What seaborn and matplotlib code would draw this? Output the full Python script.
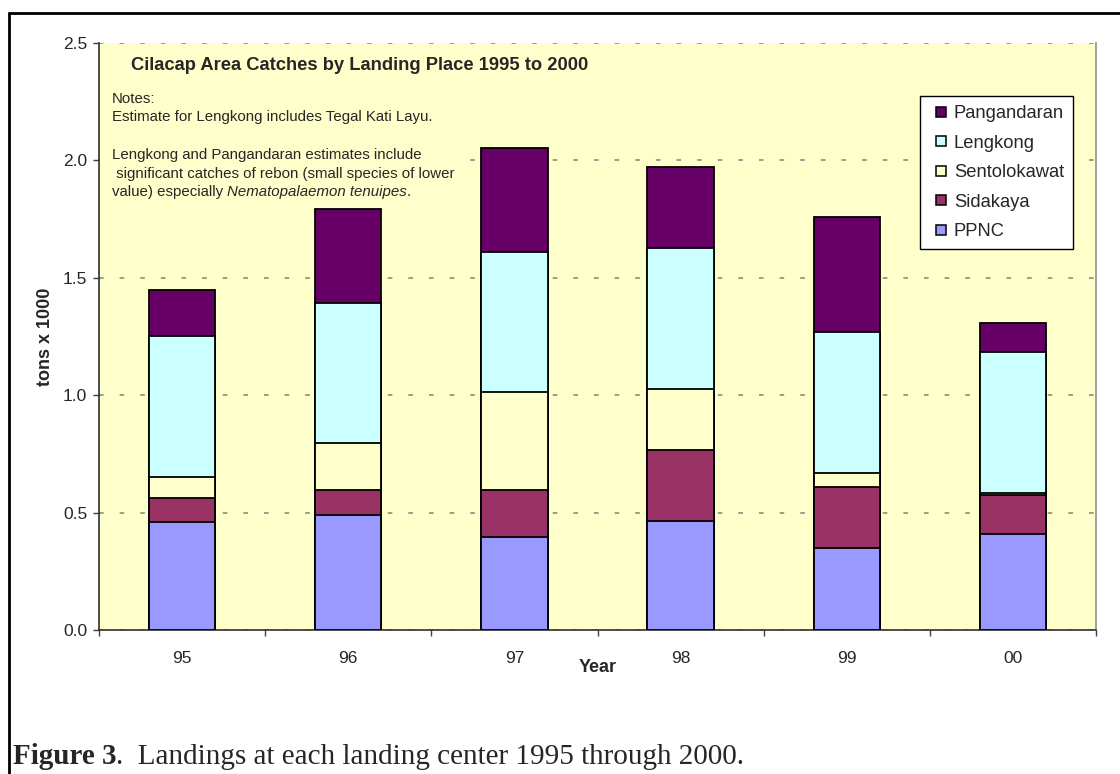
import matplotlib.pyplot as plt
import numpy as np
import pandas as pd
import seaborn as sns
from matplotlib.lines import Line2D
from matplotlib.patches import Rectangle

# Data (tons x 1000)
years = ['95', '96', '97', '98', '99', '00']
places = ['PPNC', 'Sidakaya', 'Sentolokawat', 'Lengkong', 'Pangandaran']
ppnc = [0.462, 0.488, 0.397, 0.463, 0.348, 0.407]
sidakaya = [0.100, 0.107, 0.200, 0.305, 0.260, 0.170]
sentolokawat = [0.090, 0.200, 0.415, 0.260, 0.060, 0.007]
lengkong = [0.600, 0.598, 0.600, 0.600, 0.600, 0.600]
pangandaran = [0.195, 0.402, 0.440, 0.345, 0.490, 0.125]
colors = ['#9999FF', '#993366', '#FFFFCC', '#CCFFFF', '#660066']

df = pd.DataFrame({'year': years, 'PPNC': ppnc, 'Sidakaya': sidakaya,
                   'Sentolokawat': sentolokawat, 'Lengkong': lengkong,
                   'Pangandaran': pangandaran})
cum = df[places].cumsum(axis=1)

sns.set_style('white')
plt.rcParams['font.family'] = ['Liberation Sans', 'DejaVu Sans']

fig = plt.figure(figsize=(11.2, 7.74), dpi=100)
ax = fig.add_axes([99 / 1120, 1 - 630 / 774, 997 / 1120, 587 / 774])
ax.set_facecolor('#FFFFCC')

# stacked bars: draw cumulative totals from the top segment down
for place, col in reversed(list(zip(places, colors))):
    sns.barplot(x=df['year'], y=cum[place], color=col, width=0.4,
                edgecolor='black', linewidth=1.3, saturation=1, ax=ax,
                zorder=3)

ax.set_xlim(-0.5, 5.5)
ax.set_ylim(0, 2.5)
yt = np.arange(0, 2.51, 0.5)
ax.set_yticks(yt)
ax.set_yticklabels([f'{v:.1f}' for v in yt], fontsize=12.5)
ax.yaxis.grid(True, color='#808080', linestyle=(0, (3, 10.5)), linewidth=1.1,
              zorder=0)
ax.set_axisbelow(True)

# category boundaries carry the tick marks, labels sit at the centres
ax.set_xticks(np.arange(-0.5, 5.6, 1))
ax.set_xticklabels([])
ax.set_xticks(range(len(years)), minor=True)
ax.set_xticklabels(years, minor=True, fontsize=12.5)
ax.tick_params(axis='x', which='major', direction='out', length=4.5,
               width=1, color='#404040', bottom=True)
ax.tick_params(axis='x', which='minor', length=0, pad=15, bottom=True)
ax.tick_params(axis='y', direction='out', length=4.5, width=1,
               color='#404040', left=True, pad=4)

for side in ['left', 'bottom']:
    ax.spines[side].set_color('#303030')
    ax.spines[side].set_linewidth(1.2)
ax.spines['right'].set_color('#909090')
ax.spines['right'].set_linewidth(1.2)
ax.spines['top'].set_visible(False)

ax.set_ylabel('tons x 1000', fontsize=13, fontweight='bold', labelpad=6)
ax.set_xlabel('Year', fontsize=13, fontweight='bold', va='center')
ax.xaxis.set_label_coords(0.5, -38 / 587)

# title and notes (the notes box hides the gridlines behind it)
ax.add_patch(Rectangle((100 / 1120, 1 - 203 / 774), 370 / 1120, 116 / 774,
                       transform=fig.transFigure, facecolor='#FFFFCC',
                       edgecolor='none', zorder=2))
ax.text(131 / 1120, 1 - 65 / 774, 'Cilacap Area Catches by Landing Place 1995 to 2000',
        transform=fig.transFigure, fontsize=13.2, fontweight='bold', va='center')
notes = [('Notes:', 99), ('Estimate for Lengkong includes Tegal Kati Layu.', 117),
         ('Lengkong and Pangandaran estimates include', 155),
         (' significant catches of rebon (small species of lower', 174)]
for line, yy in notes:
    ax.text(112 / 1120, 1 - yy / 774, line, transform=fig.transFigure,
            fontsize=10.8, va='center', zorder=4)
t1 = ax.text(112 / 1120, 1 - 192 / 774, 'value) especially ', transform=fig.transFigure,
             fontsize=10.8, va='center', zorder=4)
t2 = ax.annotate('Nematopalaemon tenuipes', xy=(1, 0), xycoords=t1,
                 fontsize=10.8, style='italic', va='bottom', ha='left', zorder=4)
ax.annotate('.', xy=(1, 0), xycoords=t2, fontsize=10.8, va='bottom', ha='left',
            zorder=4)

# legend, top segment first
handles = [Line2D([], [], linestyle='none', marker='s', markersize=6.8,
                  markerfacecolor=c, markeredgecolor='black',
                  markeredgewidth=1.1, label=p)
           for p, c in reversed(list(zip(places, colors)))]
leg = ax.legend(handles=handles, loc='upper left',
                bbox_to_anchor=(920 / 1120, 1 - 96 / 774),
                bbox_transform=fig.transFigure, fontsize=13.2, frameon=True,
                fancybox=False, shadow=False, framealpha=1, edgecolor='black',
                handlelength=1.3, handletextpad=0.05,
                labelspacing=0.68, borderpad=0.5, borderaxespad=0)
leg.get_frame().set_linewidth(1.0)
leg.set_zorder(5)

# caption below the chart
c1 = fig.text(13 / 1120, 1 - 757 / 774, 'Figure 3', fontsize=21,
              fontweight='bold', family='Liberation Serif', va='center')
ax.annotate('.  Landings at each landing center 1995 through 2000.', xy=(1, 0),
            xycoords=c1, fontsize=21, family='Liberation Serif',
            va='bottom', ha='left', annotation_clip=False)

# page frame on the left and top
fig.add_artist(Line2D([9 / 1120, 9 / 1120], [0, 1 - 13 / 774],
                      transform=fig.transFigure, color='black', linewidth=2))
fig.add_artist(Line2D([9 / 1120, 1], [1 - 13 / 774, 1 - 13 / 774],
                      transform=fig.transFigure, color='black', linewidth=2))

fig.savefig('out.png', dpi=100)
